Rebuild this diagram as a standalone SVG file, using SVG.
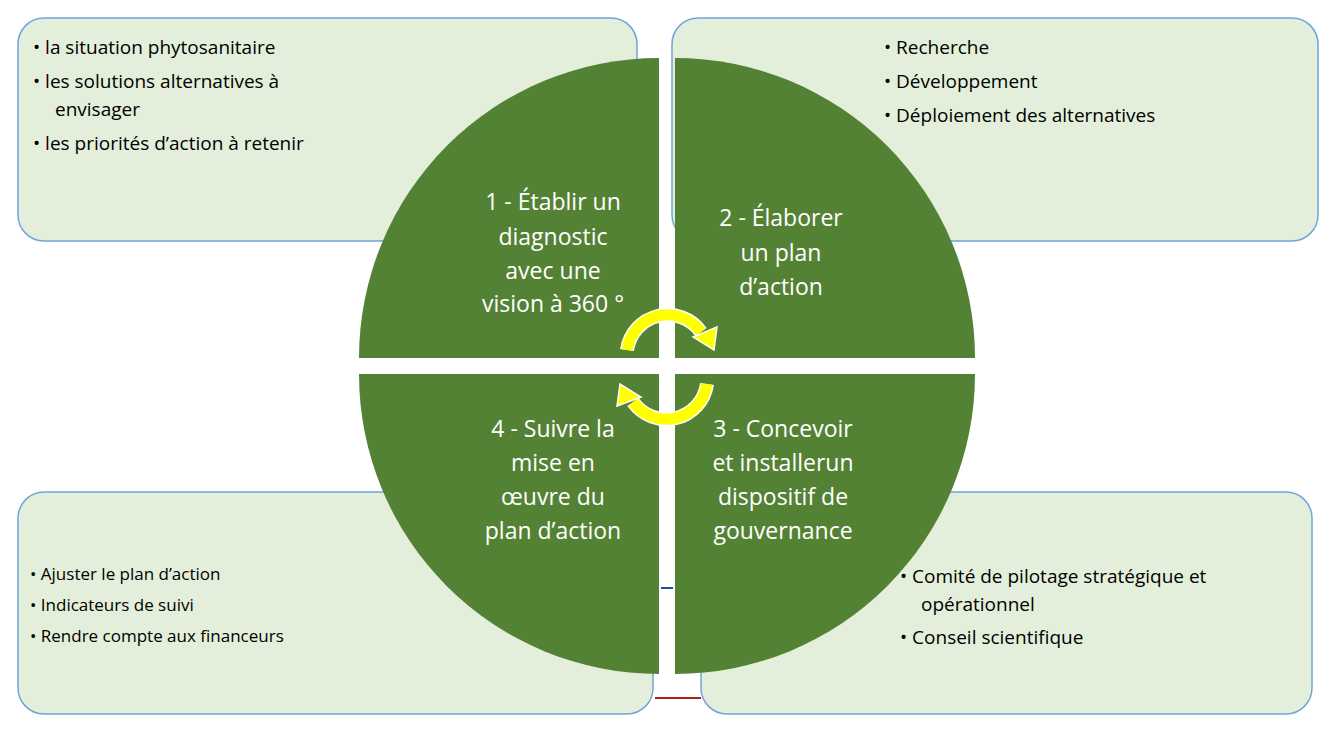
<svg xmlns="http://www.w3.org/2000/svg" width="1338" height="730" viewBox="0 0 1338 730">
<style>
.box{fill:#e3efda;stroke:#6fa5dc;stroke-width:1.5}
.q{fill:#548235}
.qt{font-family:"Open Sans","Liberation Sans",sans-serif;font-size:23px;fill:#fff;text-anchor:middle}
.bt{font-family:"Open Sans","Liberation Sans",sans-serif;font-size:19px;fill:#000}
.bs{font-family:"Open Sans","Liberation Sans",sans-serif;font-size:17px;fill:#000}
.arc{fill:none;stroke:#ffff00;stroke-width:11}
.arcw{fill:none;stroke:#fff;stroke-width:14}
.head{fill:#ffff00;stroke:#fff;stroke-width:1.5}
</style>
<g id="box1"><rect class="box" x="18" y="18" width="619" height="223" rx="26"/>
<text class="bt"><tspan x="33" y="54">•  la situation phytosanitaire</tspan><tspan x="33" y="88">•   les solutions alternatives à</tspan><tspan x="55" y="116">envisager</tspan><tspan x="33" y="150">•   les priorités d’action à retenir</tspan></text></g>
<g id="box2"><rect class="box" x="672" y="18" width="646" height="223" rx="26"/>
<text class="bt"><tspan x="884" y="54">•  Recherche</tspan><tspan x="884" y="88">•  Développement</tspan><tspan x="884" y="122">•  Déploiement des alternatives</tspan></text></g>
<g id="box4"><rect class="box" x="18" y="492" width="635" height="222" rx="26"/>
<text class="bs"><tspan x="30" y="580">• Ajuster le plan d’action</tspan><tspan x="30" y="611">• Indicateurs de suivi</tspan><tspan x="30" y="642">• Rendre compte aux financeurs</tspan></text></g>
<g id="box3"><rect class="box" x="701" y="492" width="611" height="222" rx="26"/>
<text class="bt"><tspan x="900" y="583">•  Comité de pilotage stratégique et</tspan><tspan x="921" y="611">opérationnel</tspan><tspan x="900" y="644">•  Conseil scientifique</tspan></text></g>
<g id="q1"><path class="q" d="M659,358 L359,358 A300,300 0 0 1 659,58 Z"/>
<text class="qt"><tspan x="553" y="210">1 - Établir un</tspan><tspan x="553" y="245">diagnostic</tspan><tspan x="553" y="279">avec une</tspan><tspan x="553" y="312">vision à 360 °</tspan></text></g>
<g id="q2"><path class="q" d="M675,358 L675,58 A300,300 0 0 1 975,358 Z"/>
<text class="qt"><tspan x="781" y="226">2 - Élaborer</tspan><tspan x="781" y="261">un plan</tspan><tspan x="781" y="295">d’action</tspan></text></g>
<g id="q3"><path class="q" d="M675,374 L975,374 A300,300 0 0 1 675,674 Z"/>
<text class="qt"><tspan x="783" y="437">3 - Concevoir</tspan><tspan x="783" y="471">et installerun</tspan><tspan x="783" y="505">dispositif de</tspan><tspan x="783" y="539">gouvernance</tspan></text></g>
<g id="q4"><path class="q" d="M659,374 L659,674 A300,300 0 0 1 359,374 Z"/>
<text class="qt"><tspan x="553" y="437">4 - Suivre la</tspan><tspan x="553" y="471">mise en</tspan><tspan x="553" y="505">œuvre du</tspan><tspan x="553" y="539">plan d’action</tspan></text></g>
<g id="connectors">
<path class="arcw" d="M627,350 A41,41 0 0 1 701,332"/>
<path class="arc" d="M627,350 A41,41 0 0 1 701,332"/>
<polygon class="head" points="693,337 717,327 714,350"/>
<path class="arcw" d="M707,384 A41,41 0 0 1 633,402"/>
<path class="arc" d="M707,384 A41,41 0 0 1 633,402"/>
<polygon class="head" points="641,397 617,406 620,384"/>
<line x1="661" y1="588" x2="673" y2="588" stroke="#1f4e9a" stroke-width="2"/>
<line x1="655" y1="698" x2="701" y2="698" stroke="#b01c1c" stroke-width="2"/>
</g>
</svg>
